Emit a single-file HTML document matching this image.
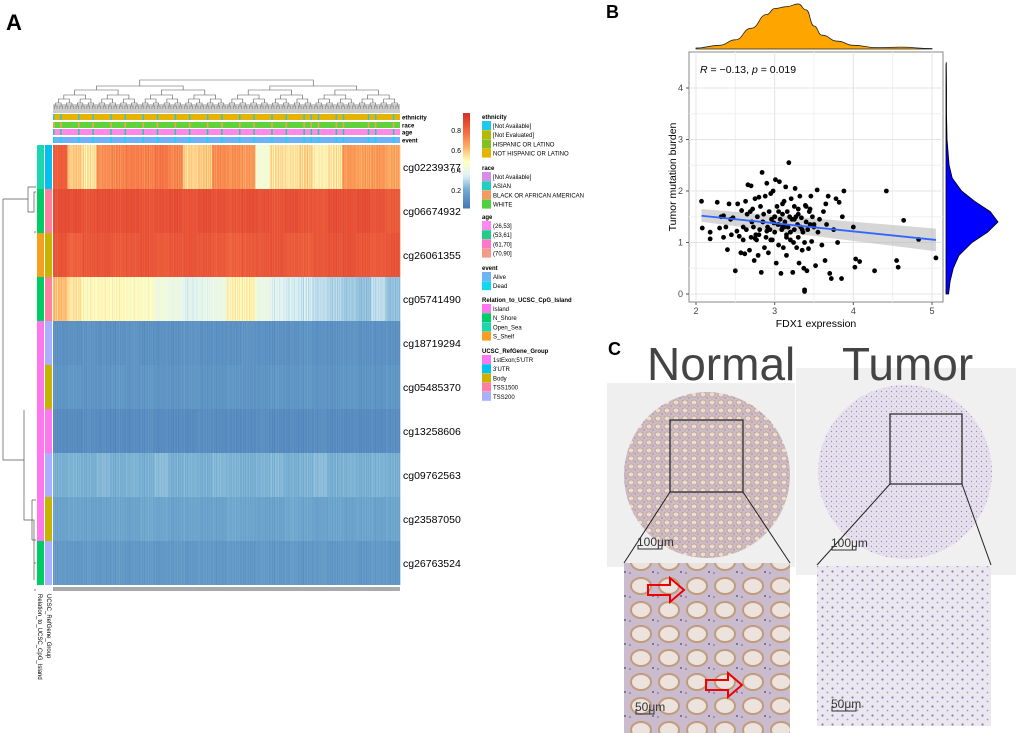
<!DOCTYPE html>
<html><head><meta charset="utf-8">
<style>
body{margin:0;background:#fff;font-family:"Liberation Sans",sans-serif;}
#root{position:relative;width:1020px;height:733px;overflow:hidden;}
.abs{position:absolute;}
</style></head>
<body>
<div id="root">
<svg id="svgA" class="abs" style="left:0;top:0" width="600" height="733"></svg>
<svg id="svgB" class="abs" style="left:600px;top:0" width="420" height="335"></svg>
<svg id="svgC" class="abs" style="left:600px;top:335px" width="420" height="398"></svg>
</div>
<script>
// ===== Panel A data =====
const rowNames=["cg02239377","cg06674932","cg26061355","cg05741490","cg18719294","cg05485370","cg13258606","cg09762563","cg23587050","cg26763524"];
const rowSeg0=[0.85,0.6,0.55,0.72,0.74,0.76,0.75,0.78,0.74,0.58,0.6,0.73,0.72,0.7,0.44,0.56,0.55,0.58,0.52,0.55,0.7,0.68,0.7,0.67];
const rowSeg1=[0.9,0.9,0.88,0.9,0.89,0.9,0.88,0.89,0.9,0.88,0.9,0.89,0.88,0.9,0.89,0.88,0.9,0.88,0.87,0.9,0.89,0.9,0.88,0.86];
const rowSeg2=[0.88,0.84,0.87,0.88,0.86,0.87,0.88,0.86,0.87,0.88,0.87,0.86,0.84,0.86,0.87,0.88,0.86,0.85,0.87,0.88,0.89,0.87,0.86,0.88];
const rowSeg3=[0.62,0.55,0.5,0.5,0.5,0.49,0.48,0.42,0.4,0.36,0.38,0.4,0.52,0.52,0.4,0.36,0.34,0.32,0.3,0.28,0.26,0.24,0.3,0.24];
const rowSeg4=[0.1,0.1,0.11,0.1,0.1,0.11,0.1,0.1,0.1,0.11,0.1,0.1,0.1,0.11,0.1,0.1,0.1,0.11,0.1,0.1,0.11,0.1,0.1,0.1];
const rowSeg5=[0.11,0.12,0.11,0.11,0.12,0.11,0.12,0.11,0.11,0.12,0.11,0.11,0.12,0.11,0.11,0.12,0.11,0.12,0.11,0.11,0.12,0.11,0.11,0.12];
const rowSeg6=[0.08,0.08,0.09,0.08,0.08,0.08,0.09,0.08,0.08,0.08,0.09,0.08,0.08,0.08,0.09,0.08,0.08,0.08,0.09,0.08,0.08,0.08,0.08,0.09];
const rowSeg7=[0.2,0.21,0.2,0.22,0.2,0.21,0.2,0.23,0.2,0.21,0.2,0.22,0.21,0.2,0.21,0.22,0.2,0.21,0.23,0.2,0.21,0.2,0.21,0.2];
const rowSeg8=[0.16,0.17,0.16,0.16,0.17,0.16,0.18,0.17,0.16,0.17,0.16,0.16,0.18,0.17,0.16,0.16,0.18,0.17,0.16,0.17,0.16,0.17,0.16,0.17];
const rowSeg9=[0.13,0.12,0.13,0.12,0.13,0.12,0.13,0.12,0.13,0.12,0.13,0.12,0.13,0.12,0.13,0.12,0.13,0.12,0.13,0.12,0.13,0.12,0.13,0.12];
const stripeJitter=[0,0.04,-0.03,0.02,-0.05,0.03,0.01,-0.02,0.05,-0.04,0.02,-0.01,0.03,-0.03];
const relColors=["#1dd6b0","#00cc66","#f5a020","#00cc66","#ff77ee","#ff77ee","#ff77ee","#ff77ee","#ff77ee","#00cc66"];
const refColors=["#00c0f0","#ff7fa0","#c8b400","#ff7fa0","#aab0ff","#c8b400","#ff77ee","#aab0ff","#c8b400","#aab0ff"];
const annNames=["ethnicity","race","age","event"];
const annBase=["#e6b400","#5fd43a","#ff88e8","#6cb4f5"];
const annAlt=["#1ec8f0","#f5a060","#1ecf90","#10d8f0"];
const colorbarTicks=[0.2,0.4,0.6,0.8];

const NS="http://www.w3.org/2000/svg";
function mk(svg,tag,attrs,name){const e=document.createElementNS(NS,tag);for(const k in attrs)e.setAttribute(k,attrs[k]);


svg.appendChild(e);return e;}
const stops=[[0,[69,117,180]],[0.2,[116,173,209]],[0.35,[224,243,248]],[0.5,[255,255,191]],[0.65,[253,174,97]],[0.8,[244,109,67]],[1,[215,48,39]]];
function colorScale(v){v=Math.max(0,Math.min(1,v));for(let i=1;i<stops.length;i++){if(v<=stops[i][0]){const a=stops[i-1],b=stops[i];const t=(v-a[0])/(b[0]-a[0]);const c=a[1].map((x,j)=>Math.round(x+(b[1][j]-x)*t));return `rgb(${c})`;}}return "rgb(215,48,39)";}

const A=document.getElementById('svgA');
mk(A,'text',{x:6,y:30,'font-size':22,'font-weight':'bold','font-family':'Liberation Sans'},'panel-a-label').textContent='A';
const hx0=53,hx1=400,hy0=145,rowH=44;
const rows=[rowSeg0,rowSeg1,rowSeg2,rowSeg3,rowSeg4,rowSeg5,rowSeg6,rowSeg7,rowSeg8,rowSeg9];
const xScaleHM=i=>hx0+(hx1-hx0)*i;
rows.forEach((segs,r)=>{
  const n=segs.length, nsub=stripeJitter.length;
  segs.forEach((v,s)=>{
    for(let k=0;k<nsub;k++){
      const f0=(s+k/nsub)/n, f1=(s+(k+1)/nsub)/n;
      const amp = v>0.3&&v<0.8?1:0.6;
      mk(A,'rect',{x:xScaleHM(f0),y:hy0+r*rowH,width:xScaleHM(f1)-xScaleHM(f0)+0.3,height:rowH,fill:colorScale(v+stripeJitter[k]*amp)},'heatmap-cell');
    }
  });
  mk(A,'text',{x:403,y:hy0+r*rowH+rowH/2+4,'font-size':10.5,'font-family':'Liberation Sans'},'row-label').textContent=rowNames[r];
  mk(A,'rect',{x:37,y:hy0+r*rowH,width:7,height:rowH,fill:relColors[r]},'relation-annotation');
  mk(A,'rect',{x:45,y:hy0+r*rowH,width:7,height:rowH,fill:refColors[r]},'refgene-annotation');
});
const annY=[114,122,129,137];
annNames.forEach((nm,i)=>{
  mk(A,'rect',{x:hx0,y:annY[i],width:hx1-hx0,height:6,fill:annBase[i]},'annotation-'+nm);
  for(let k=0;k<60;k++){const p=(k*37%97)/97; if((k*13)%5<2) mk(A,'rect',{x:xScaleHM(p),y:annY[i],width:1.5,height:6,fill:annAlt[i]},'annotation-stripe');}
  mk(A,'text',{x:402,y:annY[i]+5.5,'font-size':6,'font-weight':'bold','font-family':'Liberation Sans'},'annotation-label').textContent=nm;
});
mk(A,'rect',{x:hx0,y:587,width:hx1-hx0,height:4,fill:'#aaa'},'column-ticks');
let t=mk(A,'text',{x:0,y:0,'font-size':6,'font-family':'Liberation Sans',transform:'translate(47,594) rotate(90)'},'refgene-axis-label');t.textContent='UCSC_RefGene_Group';
t=mk(A,'text',{x:0,y:0,'font-size':6,'font-family':'Liberation Sans',transform:'translate(38,594) rotate(90)'},'relation-axis-label');t.textContent='Relation_to_UCSC_CpG_Island';
const dpath=[];
function dendro(x0,x1,y,depth){ if(depth>6){return;} const xm=(x0+x1)/2; const yc=y+[6,4,5,4,4,3,3][depth];
 const lx=(x0+xm)/2, rx=(xm+x1)/2; dpath.push(`M${lx},${Math.min(yc,113)}V${y}H${rx}V${Math.min(yc,113)}`); dendro(x0,xm,yc,depth+1); dendro(xm,x1,yc,depth+1);}
dendro(hx0,hx1,80,0);
mk(A,'path',{d:dpath.join(''),stroke:'#555',fill:'none','stroke-width':0.6},'column-dendrogram');
mk(A,'rect',{x:hx0,y:104,width:hx1-hx0,height:9,fill:'#999',opacity:0.5},'dendrogram-leaves');
mk(A,'path',{d:`M28,187V212M28,187H36M28,212H34V192H36M34,232H36M3,199H28M3,199V460H24M24,410V520H32M32,500H36M32,540H36M24,520H34V563H36M34,590H36M32,500V540M34,563V580`,stroke:'#555',fill:'none','stroke-width':0.7},'row-dendrogram');
for(let i=0;i<40;i++){mk(A,'rect',{x:463,y:113+95*(1-(i+1)/40),width:7,height:95/40+0.5,fill:colorScale((i+0.5)/40)},'colorbar-segment');}
colorbarTicks.forEach(v=>{mk(A,'text',{x:461,y:113+95*(1-(v-0.02)/0.95)+3,'font-size':7,'text-anchor':'end','font-family':'Liberation Sans'},'colorbar-tick').textContent=v;});
const legend=[["ethnicity",[["[Not Available]","#1ec8f0"],["[Not Evaluated]","#b5b800"],["HISPANIC OR LATINO","#80c020"],["NOT HISPANIC OR LATINO","#e6b400"]]],
["race",[["[Not Available]","#d88ee8"],["ASIAN","#20d0c0"],["BLACK OR AFRICAN AMERICAN","#f59a60"],["WHITE","#50d040"]]],
["age",[["(26,53]","#ff88f0"],["(53,61]","#20cc88"],["(61,70]","#ff77c8"],["(70,90]","#f59a88"]]],
["event",[["Alive","#6cb4f5"],["Dead","#10d8f0"]]],
["Relation_to_UCSC_CpG_Island",[["Island","#ff77ee"],["N_Shore","#00cc66"],["Open_Sea","#1dd6b0"],["S_Shelf","#f5a020"]]],
["UCSC_RefGene_Group",[["1stExon;5'UTR","#ff77ee"],["3'UTR","#00c0f0"],["Body","#c8b400"],["TSS1500","#ff7fa0"],["TSS200","#aab0ff"]]]];
const legTops=[114,165,214,265,297,348];
legend.forEach((g,gi)=>{let y=legTops[gi];
 mk(A,'text',{x:482,y:y+5,'font-size':6,'font-weight':'bold','font-family':'Liberation Sans'},'legend-title').textContent=g[0];
 g[1].forEach((it,j)=>{const yy=y+7+j*9.2;mk(A,'rect',{x:482,y:yy,width:9,height:9,fill:it[1]},'legend-swatch');
  mk(A,'text',{x:493,y:yy+7,'font-size':6,'font-family':'Liberation Sans'},'legend-entry').textContent=it[0];});});

// ===== Panel B data =====
const fdx1=[2.07,2.08,2.18,2.18,2.27,2.3,2.32,2.35,2.35,2.38,2.4,2.42,2.44,2.45,2.47,2.5,2.52,2.53,2.55,2.57,2.58,2.6,2.6,2.62,2.63,2.64,2.65,2.66,2.68,2.69,2.7,2.71,2.72,2.73,2.74,2.75,2.76,2.77,2.78,2.79,2.8,2.81,2.82,2.83,2.84,2.85,2.86,2.87,2.88,2.89,2.9,2.91,2.92,2.93,2.94,2.95,2.96,2.97,2.98,2.99,3.0,3.0,3.01,3.02,3.03,3.04,3.05,3.05,3.06,3.07,3.08,3.09,3.1,3.1,3.11,3.12,3.13,3.14,3.15,3.15,3.16,3.17,3.18,3.19,3.2,3.2,3.21,3.22,3.23,3.24,3.25,3.25,3.26,3.27,3.28,3.29,3.3,3.3,3.31,3.32,3.33,3.34,3.35,3.36,3.37,3.38,3.38,3.39,3.4,3.41,3.42,3.43,3.44,3.45,3.46,3.47,3.48,3.5,3.52,3.54,3.55,3.57,3.6,3.62,3.64,3.66,3.68,3.7,3.72,3.75,3.78,3.8,3.82,3.85,3.86,3.88,4.0,4.02,4.03,4.08,4.27,4.42,4.55,4.57,4.64,4.83,5.05,2.75,2.9,3.05,3.15,3.25,3.35,3.45,2.95,3.1,3.3,3.38,3.4,2.85,3.2,3.0,2.8,3.5,3.65,2.7,3.12];
const tmb=[1.8,1.28,1.2,1.07,1.78,1.28,1.5,1.1,1.52,1.3,0.86,1.75,1.45,1.15,1.48,0.45,1.22,1.75,1.12,0.8,1.62,1.3,1.05,0.78,1.8,1.25,1.55,2.12,0.85,1.6,2.1,1.4,1.65,1.3,0.65,1.85,1.15,1.05,1.5,0.75,1.88,1.25,1.7,0.42,2.36,1.4,1.55,0.9,1.9,1.1,2.15,1.3,0.8,1.6,1.25,1.95,1.45,1.05,2.0,1.38,1.5,1.2,2.22,0.6,1.7,1.35,1.6,0.95,2.18,1.45,0.4,1.25,1.55,1.75,0.9,1.8,1.4,2.08,1.1,0.75,1.6,1.3,2.55,1.5,1.05,1.2,1.85,1.45,0.42,1.0,1.7,1.25,2.05,1.5,0.9,1.35,1.65,1.1,0.6,1.9,1.3,1.48,0.85,1.2,0.5,0.08,0.05,1.72,1.4,0.45,1.25,0.88,1.6,1.35,1.9,1.02,1.5,1.3,0.55,2.02,1.2,1.45,0.95,1.6,0.65,1.35,1.9,0.4,0.3,1.25,1.85,1.0,1.78,0.3,1.5,2.0,1.3,0.52,0.68,0.63,0.45,2.0,0.65,0.52,1.43,1.06,0.7,1.08,1.22,1.35,1.15,1.45,1.25,1.65,1.05,1.3,1.55,1.0,1.7,1.4,1.2,1.5,1.15,1.35,1.75,1.1,1.3,4.45];
const fitX=[2.07,5.05], fitY=[1.52,1.05], bandLo=[1.4,0.83], bandHi=[1.65,1.27];
const xTicks=[2,3,4,5], yTicks=[0,1,2,3,4];
const densX=[2.0,2.3,2.5,2.7,2.9,3.0,3.15,3.3,3.4,3.5,3.6,3.8,4.0,4.3,4.6,5.0];
const densXv=[0.02,0.08,0.2,0.45,0.75,0.88,0.92,0.98,0.85,0.5,0.3,0.17,0.08,0.03,0.04,0.01];
const densY=[0.0,0.25,0.5,0.75,1.0,1.2,1.4,1.6,1.8,2.0,2.25,2.5,3.0,3.5,4.0,4.5];
const densYv=[0.05,0.08,0.14,0.25,0.5,0.8,1.0,0.85,0.55,0.3,0.12,0.06,0.02,0.01,0.01,0.005];

const B=document.getElementById('svgB');
const bx=v=>96+(v-2)*(332-96)/3, by=v=>294-v*(294-88)/4;
mk(B,'text',{x:6,y:18,'font-size':18,'font-weight':'bold','font-family':'Liberation Sans'},'panel-b-label').textContent='B';
mk(B,'rect',{x:89,y:52,width:254,height:250,fill:'#fff',stroke:'#888','stroke-width':1},'plot-panel');
[2.5,3.5,4.5].forEach(v=>mk(B,'line',{x1:bx(v),x2:bx(v),y1:52,y2:302,stroke:'#f0f0f0'},'minor-gridline'));
[0.5,1.5,2.5,3.5].forEach(v=>mk(B,'line',{x1:89,x2:343,y1:by(v),y2:by(v),stroke:'#f0f0f0'},'minor-gridline'));
xTicks.forEach(v=>{mk(B,'line',{x1:bx(v),x2:bx(v),y1:52,y2:302,stroke:'#e4e4e4'},'x-gridline');
 mk(B,'line',{x1:bx(v),x2:bx(v),y1:302,y2:305,stroke:'#555'},'x-tick');
 mk(B,'text',{x:bx(v),y:314,'font-size':9,'text-anchor':'middle',fill:'#444','font-family':'Liberation Sans'},'x-tick-label').textContent=v;});
yTicks.forEach(v=>{mk(B,'line',{x1:89,x2:343,y1:by(v),y2:by(v),stroke:'#e4e4e4'},'y-gridline');
 mk(B,'line',{x1:86,x2:89,y1:by(v),y2:by(v),stroke:'#555'},'y-tick');
 mk(B,'text',{x:83,y:by(v)+3,'font-size':9,'text-anchor':'end',fill:'#444','font-family':'Liberation Sans'},'y-tick-label').textContent=v;});
mk(B,'text',{x:216,y:327,'font-size':10.5,'text-anchor':'middle','font-family':'Liberation Sans'},'x-axis-title').textContent='FDX1 expression';
mk(B,'text',{x:0,y:0,'font-size':10.5,'text-anchor':'middle','font-family':'Liberation Sans',transform:'translate(76,177) rotate(-90)'},'y-axis-title').textContent='Tumor mutation burden';
mk(B,'polygon',{points:`${bx(fitX[0])},${by(bandHi[0])} ${bx(fitX[1])},${by(bandHi[1])} ${bx(fitX[1])},${by(bandLo[1])} ${bx(fitX[0])},${by(bandLo[0])}`,fill:'#bbb',opacity:0.6},'confidence-band');
fdx1.forEach((x,i)=>mk(B,'circle',{cx:bx(x),cy:by(tmb[i]),r:2.4,fill:'#000'},'scatter-point'));
mk(B,'line',{x1:bx(fitX[0]),y1:by(fitY[0]),x2:bx(fitX[1]),y2:by(fitY[1]),stroke:'#3366ff','stroke-width':1.8},'regression-line');
const st=mk(B,'text',{x:100,y:73,'font-size':10.5,'font-family':'Liberation Sans'},'correlation-stat');
st.innerHTML='<tspan font-style="italic">R</tspan> = −0.13, <tspan font-style="italic">p</tspan> = 0.019';
let d=`M${bx(densX[0])},49`;
const pts=densX.map((x,i)=>[bx(x),49-densXv[i]*46]);
d+=`L${pts[0][0]},${pts[0][1]}`;
for(let i=1;i<pts.length;i++){const p0=pts[i-1],p1=pts[i];const mx=(p0[0]+p1[0])/2;d+=`C${mx},${p0[1]} ${mx},${p1[1]} ${p1[0]},${p1[1]}`;}
d+=`L${bx(densX[densX.length-1])},49Z`;
mk(B,'path',{d,fill:'#ffa500',stroke:'#222','stroke-width':0.8},'top-density');
const rx=v=>346+v*52;
d=`M346,${by(densY[0])}`;densY.forEach((y,i)=>d+=`L${rx(densYv[i])},${by(y)}`);d+=`L346,${by(4.45)}Z`;
mk(B,'path',{d,fill:'#0000ff',stroke:'#000','stroke-width':0.8},'right-density');

// ===== Panel C =====
const C=document.getElementById('svgC');
C.innerHTML=`<defs>
<pattern id="pn" width="9" height="8" patternUnits="userSpaceOnUse"><rect width="9" height="8" fill="#cdbcc6"/><ellipse cx="4" cy="3.5" rx="3" ry="2.5" fill="#e8dcd8" stroke="#bf9c80" stroke-width="0.8"/><circle cx="8" cy="7" r="0.6" fill="#7a6aa0"/></pattern>
<pattern id="pnz" width="28" height="24" patternUnits="userSpaceOnUse"><rect width="28" height="24" fill="#cabccc"/><ellipse cx="13" cy="11" rx="10" ry="8" fill="#ece2de" stroke="#c09c7c" stroke-width="2"/><circle cx="25" cy="21" r="1" fill="#6a5a9a"/><circle cx="2" cy="22" r="0.8" fill="#6a5a9a"/></pattern>
<pattern id="pt" width="5" height="5" patternUnits="userSpaceOnUse"><rect width="5" height="5" fill="#e6e1ec"/><circle cx="1.5" cy="1.5" r="0.7" fill="#9a8cc0"/><circle cx="4" cy="3.8" r="0.5" fill="#b0a4d0"/></pattern>
<pattern id="ptz" width="10" height="9" patternUnits="userSpaceOnUse"><rect width="10" height="9" fill="#ebe7ef"/><circle cx="2.5" cy="2.5" r="1.1" fill="#8a7ab8"/><circle cx="7.5" cy="6.5" r="0.9" fill="#a494c8"/></pattern>
</defs>`;
const c=(tag,a,n)=>mk(C,tag,a,n);
c('text',{x:8,y:20,'font-size':18,'font-weight':'bold','font-family':'Liberation Sans'},'panel-c-label').textContent='C';
c('rect',{x:7,y:48,width:188,height:184,fill:'#efefef'},'normal-background');
c('rect',{x:196,y:33,width:220,height:207,fill:'#f0f0f0'},'tumor-background');
c('text',{x:47,y:45,'font-size':46,fill:'#444','font-family':'Liberation Sans'},'normal-title').textContent='Normal';
c('text',{x:242,y:45,'font-size':46,fill:'#444','font-family':'Liberation Sans'},'tumor-title').textContent='Tumor';
c('circle',{cx:107,cy:140,r:83,fill:'url(#pn)'},'normal-tissue-core');
c('circle',{cx:305,cy:137,r:87,fill:'url(#pt)'},'tumor-tissue-core');
c('rect',{x:70,y:85,width:73,height:72,fill:'none',stroke:'#222','stroke-width':1.2},'normal-zoom-box');
c('rect',{x:290,y:79,width:72,height:70,fill:'none',stroke:'#222','stroke-width':1.2},'tumor-zoom-box');
c('path',{d:'M70,157L24,228M143,157L190,228M290,149L217,230M362,149L391,230',stroke:'#222','stroke-width':1},'zoom-connectors');
c('rect',{x:24,y:228,width:166,height:170,fill:'url(#pnz)'},'normal-zoomed-image');
c('rect',{x:217,y:231,width:174,height:160,fill:'url(#ptz)'},'tumor-zoomed-image');
c('path',{d:'M48,250h22v-7l14,12l-14,12v-7h-22z',fill:'none',stroke:'#e00','stroke-width':2},'red-arrow-1');
c('path',{d:'M106,345h22v-7l14,12l-14,12v-7h-22z',fill:'none',stroke:'#e00','stroke-width':2},'red-arrow-2');
[[38,210,'100μm',24],[232,211,'100μm',24],[36,375,'50μm',18],[232,372,'50μm',24]].forEach(s=>{
 c('path',{d:`M${s[0]},${s[1]}v4h${s[3]}v-4`,stroke:'#333',fill:'none','stroke-width':1},'scale-bar');
 c('text',{x:s[0]-1,y:s[1]+1,'font-size':12,fill:'#333','font-family':'Liberation Sans'},'scale-bar-label').textContent=s[2];});
</script>
</body></html>
